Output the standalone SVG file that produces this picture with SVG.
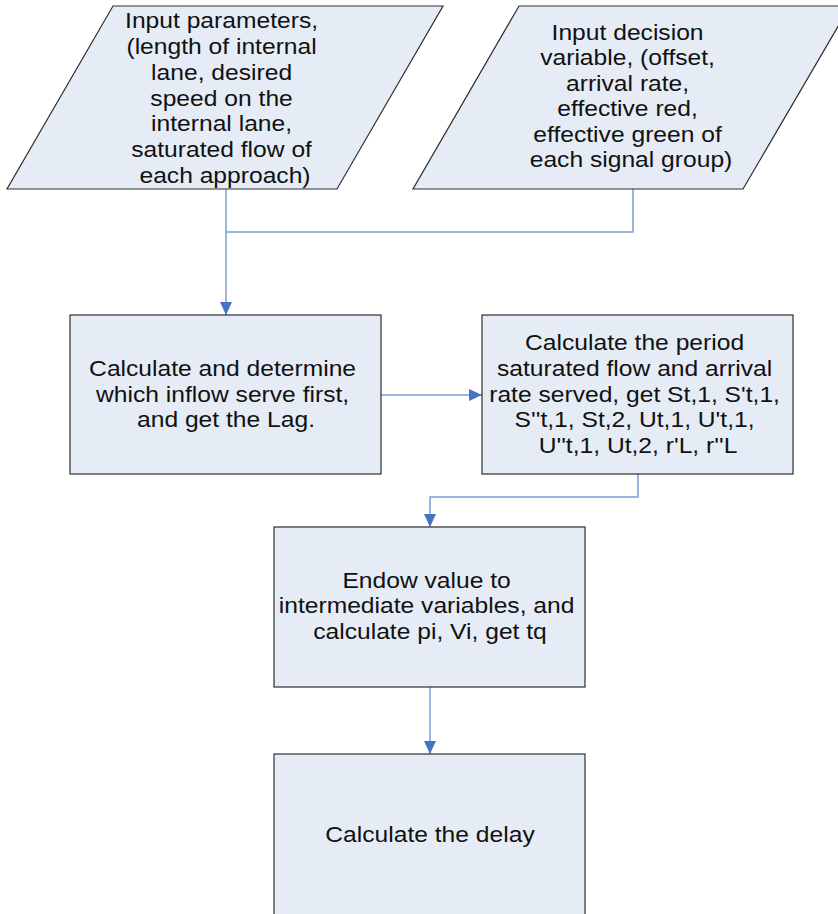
<svg xmlns="http://www.w3.org/2000/svg" width="838" height="914" viewBox="0 0 838 914">
<defs>
<style>
.shape{fill:#E6ECF6;stroke:#2E2E2E;stroke-width:1.2}
.lbl{font-family:"Liberation Sans",Arial,sans-serif;font-size:22px;fill:#111;text-anchor:middle}
.conn{fill:none;stroke:#7A9FD6;stroke-width:1.5}
</style>
<marker id="arr" markerUnits="userSpaceOnUse" markerWidth="14" markerHeight="14" refX="13" refY="6" orient="auto">
<path d="M0,0 L13,6 L0,12 Z" fill="#4673C4"/>
</marker>
</defs>
<rect width="838" height="914" fill="#FFFFFF"/>
<g id="connectors">
<path class="conn" d="M226,189 V315" marker-end="url(#arr)"/>
<path class="conn" d="M633,189 V232 H226"/>
<path class="conn" d="M381,395 H482" marker-end="url(#arr)"/>
<path class="conn" d="M638,474 V497 H430 V527" marker-end="url(#arr)"/>
<path class="conn" d="M430,687 V754" marker-end="url(#arr)"/>
</g>
<g id="input-parameters">
<polygon class="shape" points="113,6 443,6 337,189 7,189"/>
<text class="lbl" transform="translate(225,0) scale(1.12,1)">
<tspan x="0" y="28">Input parameters,</tspan>
<tspan x="0" y="54">(length of internal</tspan>
<tspan x="0" y="80">lane, desired</tspan>
<tspan x="0" y="106">speed on the</tspan>
<tspan x="0" y="131">internal lane,</tspan>
<tspan x="0" y="157">saturated flow of</tspan>
<tspan x="0" y="183">each approach)</tspan>
</text>
</g>
<g id="input-decision">
<polygon class="shape" points="519,6 850,6 743,189 413,189"/>
<text class="lbl" transform="translate(631,0) scale(1.12,1)">
<tspan x="0" y="40">Input decision</tspan>
<tspan x="0" y="65">variable, (offset,</tspan>
<tspan x="0" y="91">arrival rate,</tspan>
<tspan x="0" y="116">effective red,</tspan>
<tspan x="0" y="142">effective green of</tspan>
<tspan x="0" y="167">each signal group)</tspan>
</text>
</g>
<g id="determine-inflow">
<rect class="shape" x="70" y="315" width="311" height="159"/>
<text class="lbl" transform="translate(226,0) scale(1.12,1)">
<tspan x="0" y="376">Calculate and determine</tspan>
<tspan x="0" y="402">which inflow serve first,</tspan>
<tspan x="0" y="427">and get the Lag.</tspan>
</text>
</g>
<g id="period-flow">
<rect class="shape" x="482" y="315" width="311" height="159"/>
<text class="lbl" transform="translate(638,0) scale(1.12,1)">
<tspan x="0" y="350">Calculate the period</tspan>
<tspan x="0" y="376">saturated flow and arrival</tspan>
<tspan x="0" y="402">rate served, get St,1, S't,1,</tspan>
<tspan x="0" y="427">S''t,1, St,2, Ut,1, U't,1,</tspan>
<tspan x="0" y="453">U''t,1, Ut,2, r'L, r''L</tspan>
</text>
</g>
<g id="endow-value">
<rect class="shape" x="274" y="527" width="311" height="160"/>
<text class="lbl" transform="translate(430,0) scale(1.12,1)">
<tspan x="0" y="588">Endow value to</tspan>
<tspan x="0" y="613">intermediate variables, and</tspan>
<tspan x="0" y="639">calculate pi, Vi, get tq</tspan>
</text>
</g>
<g id="calculate-delay">
<rect class="shape" x="274" y="754" width="311" height="170"/>
<text class="lbl" transform="translate(430,0) scale(1.12,1)">
<tspan x="0" y="842">Calculate the delay</tspan>
</text>
</g>
</svg>
